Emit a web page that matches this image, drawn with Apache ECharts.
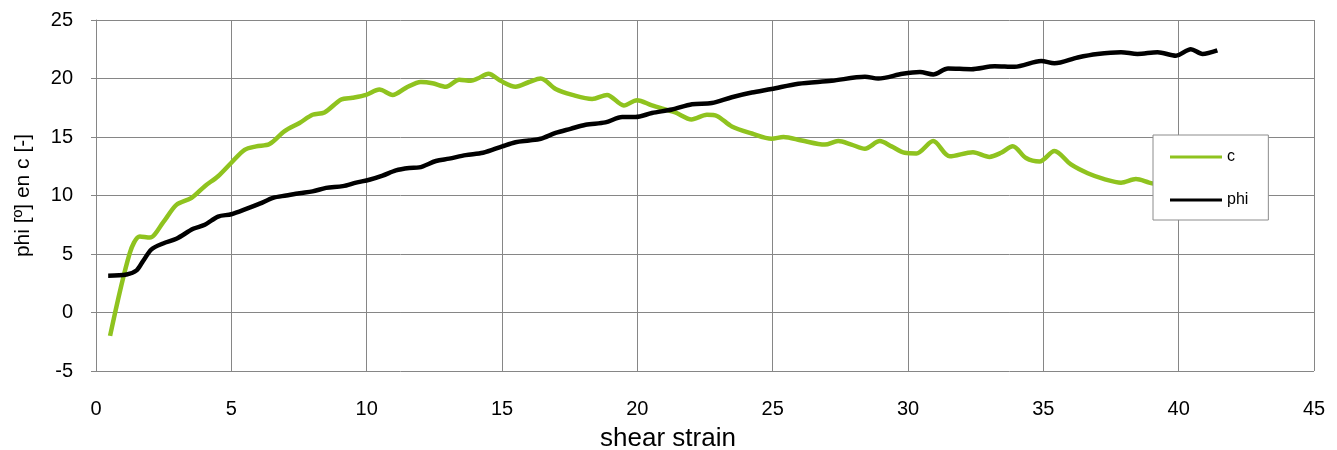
<!DOCTYPE html>
<html>
<head>
<meta charset="utf-8">
<script src="https://cdn.jsdelivr.net/npm/echarts@6/dist/echarts.min.js"></script>
<style>
  html, body { margin: 0; padding: 0; background: #fff; }
  #chart { width: 1337px; height: 450px; }
</style>
</head>
<body>
<div id="chart"></div>
<script>
  // data
  const cStrain = [0.52, 1.25, 1.62, 1.99, 2.48, 2.97, 3.53, 4.02, 4.51, 5.0, 5.49, 5.92, 6.41, 6.97, 7.52, 8.0, 8.44, 9.06, 9.48, 9.98,
    10.47, 10.96, 11.45, 12.0, 12.43, 12.93, 13.42, 13.85, 14.1, 14.5, 14.95, 15.5, 16.0, 16.43, 16.98, 17.6, 18.33, 18.88, 19.5, 19.99,
    20.54, 21.4, 22.0, 22.57, 22.94, 23.49, 24.23, 24.96, 25.4, 26.07, 26.93, 27.42, 27.91, 28.41, 28.96, 29.39, 29.88, 30.31, 30.93, 31.54,
    32.4, 33.01, 33.44, 33.87, 34.36, 34.86, 35.41, 36.02, 36.64, 37.25, 37.87, 38.42, 38.91, 39.3];
  const cValues = [-2.0, 5.1, 6.5, 6.4, 7.7, 9.2, 9.8, 10.8, 11.65, 12.8, 13.9, 14.2, 14.4, 15.5, 16.2, 16.9, 17.1, 18.2, 18.35, 18.6,
    19.05, 18.6, 19.2, 19.7, 19.6, 19.3, 19.9, 19.8, 20.0, 20.4, 19.8, 19.3, 19.7, 20.0, 19.1, 18.6, 18.25, 18.6, 17.7, 18.15,
    17.7, 17.1, 16.5, 16.9, 16.8, 15.9, 15.3, 14.85, 15.0, 14.7, 14.35, 14.65, 14.35, 14.0, 14.65, 14.2, 13.65, 13.6, 14.65, 13.35,
    13.7, 13.3, 13.65, 14.2, 13.2, 12.9, 13.8, 12.65, 11.9, 11.4, 11.1, 11.4, 11.1, 10.9];

  const phiStrain = [0.45, 1.13, 1.5, 1.74, 2.05, 2.48, 2.97, 3.59, 4.02, 4.51, 5.0, 5.55, 6.05, 6.54, 7.03, 7.52, 8.0, 8.5, 9.12, 9.61,
    10.1, 10.59, 11.08, 11.57, 11.94, 12.56, 13.05, 13.66, 14.3, 15.01, 15.5, 16.0, 16.43, 16.98, 17.53, 18.09, 18.82, 19.44, 19.93,
    20.54, 21.28, 22.02, 22.75, 23.49, 24.23, 24.96, 25.95, 27.18, 28.41, 28.9, 29.8, 30.44, 30.93, 31.48, 32.34, 33.2, 33.94, 34.92,
    35.41, 36.27, 37.0, 37.87, 38.48, 39.22, 39.9, 40.45, 40.88, 41.43];
  const phiValues = [3.15, 3.25, 3.6, 4.4, 5.4, 5.9, 6.3, 7.15, 7.5, 8.2, 8.4, 8.85, 9.3, 9.8, 10.0, 10.2, 10.35, 10.65, 10.8, 11.1,
    11.35, 11.7, 12.15, 12.35, 12.4, 12.95, 13.15, 13.45, 13.65, 14.2, 14.55, 14.7, 14.85, 15.35, 15.7, 16.05, 16.25, 16.7, 16.7,
    17.05, 17.35, 17.8, 17.9, 18.4, 18.8, 19.1, 19.55, 19.8, 20.15, 20.0, 20.4, 20.55, 20.35, 20.85, 20.8, 21.05, 21.0, 21.5,
    21.3, 21.8, 22.1, 22.25, 22.1, 22.25, 21.95, 22.5, 22.1, 22.4];

  const zip = (xs, ys) => xs.map((x, i) => [x, ys[i]]);

  const font = 'Liberation Sans';
  const gridColor = '#868686';

  const myChart = echarts.init(document.getElementById('chart'));
  myChart.setOption({
    animation: false,
    textStyle: { fontFamily: font, color: '#000' },
    grid: { left: 96, right: 23, top: 20, bottom: 79, outerBoundsMode: 'none', containLabel: false },
    legend: {
      orient: 'vertical',
      left: 1153,
      top: 135,
      padding: [14, 20, 12, 17],
      itemWidth: 52,
      itemHeight: 3,
      itemGap: 27,
      icon: 'rect',
      backgroundColor: '#fff',
      borderColor: '#8c8c8c',
      borderWidth: 1,
      textStyle: { fontFamily: font, fontSize: 16, color: '#000', lineHeight: 16 },
      data: ['c', 'phi'],
    },
    xAxis: {
      type: 'value',
      min: 0,
      max: 45,
      interval: 5,
      name: 'shear strain',
      nameLocation: 'middle',
      nameGap: 55,
      // the title sits a bit left of the plot centre
      nameTextStyle: { fontFamily: font, fontSize: 26, color: '#000', padding: [0, 74, 0, 0] },
      axisLine: { lineStyle: { color: gridColor, width: 1 } },
      axisTick: { show: true, length: 5, lineStyle: { color: gridColor } },
      axisLabel: { fontFamily: font, fontSize: 20, color: '#000', margin: 28 },
      splitLine: { show: true, lineStyle: { color: gridColor, width: 1 } },
    },
    yAxis: {
      type: 'value',
      min: -5,
      max: 25,
      interval: 5,
      name: 'phi [º] en c [-]',
      nameLocation: 'middle',
      nameRotate: 90,
      nameGap: 62,
      nameTextStyle: { fontFamily: font, fontSize: 21, color: '#000' },
      axisLine: { show: true, lineStyle: { color: gridColor, width: 1 } },
      axisTick: { show: true, length: 5, lineStyle: { color: gridColor } },
      axisLabel: { fontFamily: font, fontSize: 20, color: '#000', margin: 23 },
      splitLine: { show: true, lineStyle: { color: gridColor, width: 1 } },
    },
    series: [
      {
        name: 'c',
        type: 'line',
        data: zip(cStrain, cValues),
        smooth: 0.3,
        symbol: 'none',
        color: '#8fc31f',
        lineStyle: { width: 4.5, color: '#8fc31f' },
        z: 2,
      },
      {
        name: 'phi',
        type: 'line',
        data: zip(phiStrain, phiValues),
        smooth: 0.3,
        symbol: 'none',
        color: '#000',
        lineStyle: { width: 4.5, color: '#000' },
        z: 3,
      },
    ],
  });
</script>
</body>
</html>
